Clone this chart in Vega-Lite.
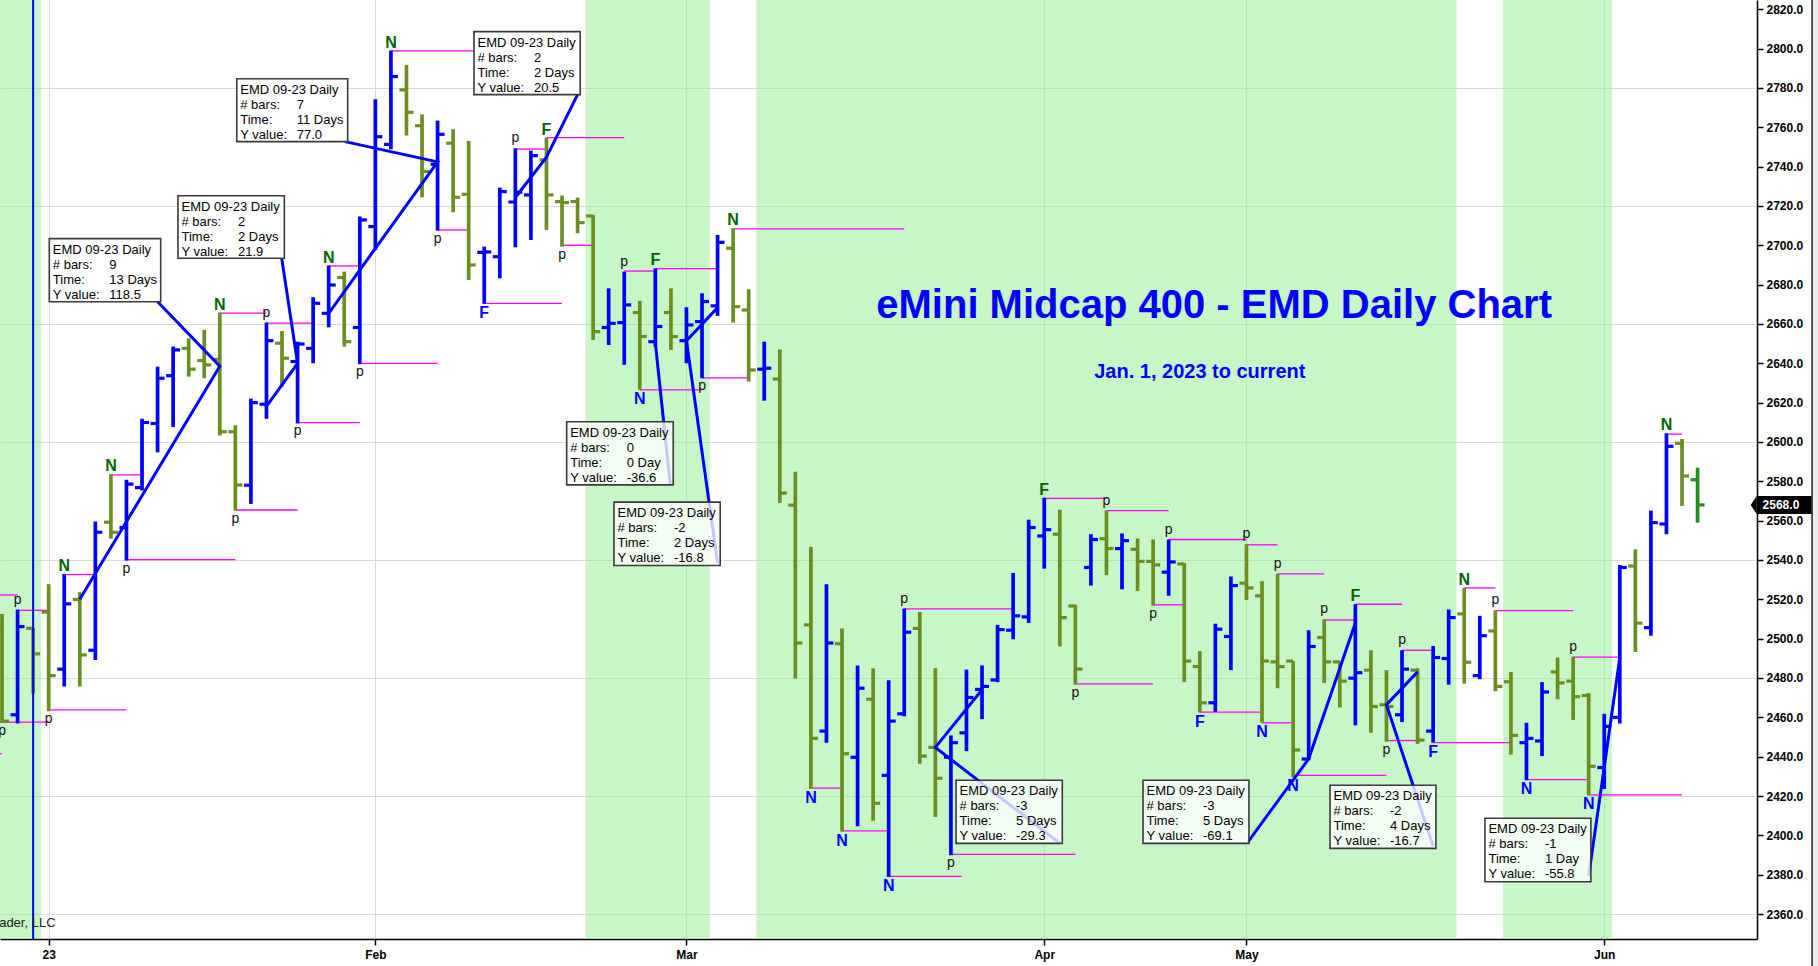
{
  "$schema": "https://vega.github.io/schema/vega-lite/v6.json",
  "width": 1757,
  "height": 939,
  "autosize": {"type": "none"},
  "padding": {"left": 0, "top": 0, "right": 61, "bottom": 27},
  "background": "white",
  "config": {"view": {"stroke": null}, "font": "Liberation Sans"},
  "resolve": {"axis": {"x": "independent", "y": "independent"}},
  "datasets": {
    "bars": [
      {"i":-3,"o":2506,"h":2512.6,"l":2457.2,"c":2458.1},
      {"i":-2,"o":2461.3,"h":2514.8,"l":2456.9,"c":2506.1},
      {"i":-1,"o":2505.2,"h":2505.5,"l":2472,"c":2492.3},
      {"i":0,"o":2513.5,"h":2527.7,"l":2463.1,"c":2481.2},
      {"i":1,"o":2484.5,"h":2532.9,"l":2475.7,"c":2517.7},
      {"i":2,"o":2519.9,"h":2523.6,"l":2475.7,"c":2491.7},
      {"i":3,"o":2494.1,"h":2559.6,"l":2489.1,"c":2554.1},
      {"i":4,"o":2559.2,"h":2583.6,"l":2550.8,"c":2554.1},
      {"i":5,"o":2556.5,"h":2580.8,"l":2539.7,"c":2578.6},
      {"i":6,"o":2576.8,"h":2611.8,"l":2575.3,"c":2609.9},
      {"i":7,"o":2609.4,"h":2638.3,"l":2594.7,"c":2632.4},
      {"i":8,"o":2633.7,"h":2648.5,"l":2607.6,"c":2646.8},
      {"i":9,"o":2647.6,"h":2652.7,"l":2633.2,"c":2637},
      {"i":10,"o":2641.4,"h":2657,"l":2632.4,"c":2639.2},
      {"i":11,"o":2642,"h":2665.8,"l":2603.3,"c":2605.2},
      {"i":12,"o":2605.2,"h":2608.5,"l":2565.1,"c":2578.1},
      {"i":13,"o":2578,"h":2622,"l":2568.5,"c":2620},
      {"i":14,"o":2619.2,"h":2660.7,"l":2611.8,"c":2651.5},
      {"i":15,"o":2650.2,"h":2656.4,"l":2628.2,"c":2642.6},
      {"i":16,"o":2640.9,"h":2651,"l":2609.4,"c":2649.8},
      {"i":17,"o":2647.6,"h":2673.6,"l":2640,"c":2670.5},
      {"i":18,"o":2665.4,"h":2689.7,"l":2658.3,"c":2679.8},
      {"i":19,"o":2683.6,"h":2686.6,"l":2648.5,"c":2651},
      {"i":20,"o":2658.2,"h":2714.6,"l":2639.5,"c":2712.9},
      {"i":21,"o":2709.5,"h":2774.2,"l":2697.6,"c":2755.2},
      {"i":22,"o":2751.3,"h":2799,"l":2748.8,"c":2785.8},
      {"i":23,"o":2779,"h":2791.7,"l":2755.8,"c":2767.6},
      {"i":24,"o":2760.8,"h":2766.6,"l":2724.4,"c":2737.5},
      {"i":25,"o":2741.2,"h":2763.4,"l":2707.5,"c":2756.4},
      {"i":26,"o":2751.9,"h":2759,"l":2716.8,"c":2724.4},
      {"i":27,"o":2725.9,"h":2753,"l":2682.4,"c":2690},
      {"i":28,"o":2696.4,"h":2699.3,"l":2670.2,"c":2696.6},
      {"i":29,"o":2694.2,"h":2729.3,"l":2683.2,"c":2727.3},
      {"i":30,"o":2722,"h":2749.3,"l":2699,"c":2727},
      {"i":31,"o":2725.6,"h":2748.1,"l":2702.7,"c":2745.6},
      {"i":32,"o":2743.4,"h":2754.7,"l":2707.8,"c":2725.6},
      {"i":33,"o":2722.2,"h":2725.3,"l":2699.3,"c":2721.7},
      {"i":34,"o":2722.2,"h":2724.2,"l":2706.1,"c":2711.5},
      {"i":35,"o":2714.9,"h":2715.4,"l":2651.9,"c":2656.1},
      {"i":36,"o":2658.2,"h":2678.1,"l":2649.3,"c":2660.3},
      {"i":37,"o":2660.7,"h":2686.6,"l":2639.2,"c":2669.7},
      {"i":38,"o":2665.8,"h":2671.7,"l":2626.5,"c":2653.6},
      {"i":39,"o":2651,"h":2688.3,"l":2648.5,"c":2658.7},
      {"i":40,"o":2665.8,"h":2678.1,"l":2646.8,"c":2653.6},
      {"i":41,"o":2651.5,"h":2668.5,"l":2640,"c":2659.5},
      {"i":42,"o":2661.2,"h":2675.6,"l":2632.4,"c":2671.4},
      {"i":43,"o":2669.2,"h":2705.3,"l":2664.1,"c":2701.5},
      {"i":44,"o":2698.5,"h":2708.6,"l":2660.7,"c":2668.8},
      {"i":45,"o":2667.1,"h":2677.6,"l":2630.7,"c":2636.6},
      {"i":46,"o":2637,"h":2651,"l":2621,"c":2637.5},
      {"i":47,"o":2632,"h":2647,"l":2569,"c":2574},
      {"i":48,"o":2567.9,"h":2584.9,"l":2479.7,"c":2497.8},
      {"i":49,"o":2507,"h":2546.7,"l":2423.6,"c":2449.3},
      {"i":50,"o":2453,"h":2527.7,"l":2447.1,"c":2497.8},
      {"i":51,"o":2497.4,"h":2505.2,"l":2401.9,"c":2441.5},
      {"i":52,"o":2439.7,"h":2486.4,"l":2404.6,"c":2474.8},
      {"i":53,"o":2469.2,"h":2484.9,"l":2407.4,"c":2416.3},
      {"i":54,"o":2430.5,"h":2478.8,"l":2378.8,"c":2458.1},
      {"i":55,"o":2461.8,"h":2515.3,"l":2460.5,"c":2503.3},
      {"i":56,"o":2505.2,"h":2513.5,"l":2436.4,"c":2440.3},
      {"i":57,"o":2444.7,"h":2484.9,"l":2409.3,"c":2429},
      {"i":58,"o":2439.7,"h":2450.8,"l":2389.9,"c":2447.1},
      {"i":59,"o":2452.1,"h":2484.3,"l":2442.8,"c":2470.1},
      {"i":60,"o":2474.2,"h":2486.4,"l":2459.1,"c":2475.7},
      {"i":61,"o":2479,"h":2507,"l":2477.9,"c":2504.6},
      {"i":62,"o":2504.3,"h":2533.4,"l":2499.7,"c":2511.6},
      {"i":63,"o":2511.1,"h":2560.5,"l":2508,"c":2556.5},
      {"i":64,"o":2552.2,"h":2571.6,"l":2535.6,"c":2555.4},
      {"i":65,"o":2553.1,"h":2565.5,"l":2496,"c":2510.7},
      {"i":66,"o":2516.6,"h":2517.2,"l":2476.6,"c":2484.5},
      {"i":67,"o":2536.2,"h":2553.1,"l":2527,"c":2550.4},
      {"i":68,"o":2550.8,"h":2565.1,"l":2532.3,"c":2545.8},
      {"i":69,"o":2545.8,"h":2553.5,"l":2525.1,"c":2549.8},
      {"i":70,"o":2545.4,"h":2550.9,"l":2524.2,"c":2539.3},
      {"i":71,"o":2539.3,"h":2550.4,"l":2516.8,"c":2537.5},
      {"i":72,"o":2533.8,"h":2550.4,"l":2521.8,"c":2539},
      {"i":73,"o":2538,"h":2538.4,"l":2477.9,"c":2488.6},
      {"i":74,"o":2485.8,"h":2493.7,"l":2462.4,"c":2467.4},
      {"i":75,"o":2467.4,"h":2507.6,"l":2462.8,"c":2504.8},
      {"i":76,"o":2501.1,"h":2531.6,"l":2484,"c":2527},
      {"i":77,"o":2528.2,"h":2548,"l":2519.6,"c":2525.8},
      {"i":78,"o":2521.8,"h":2529.2,"l":2457.2,"c":2488.6},
      {"i":79,"o":2488.2,"h":2532.9,"l":2474.8,"c":2485.8},
      {"i":80,"o":2488.6,"h":2488.6,"l":2429.5,"c":2443.4},
      {"i":81,"o":2438.8,"h":2504.3,"l":2438.2,"c":2496},
      {"i":82,"o":2500.6,"h":2509.8,"l":2477.5,"c":2488.2},
      {"i":83,"o":2488.2,"h":2488.6,"l":2465,"c":2478.4},
      {"i":84,"o":2479.9,"h":2517.5,"l":2455.9,"c":2482.7},
      {"i":85,"o":2484,"h":2494.1,"l":2452.1,"c":2465.5},
      {"i":86,"o":2466.4,"h":2484,"l":2447.6,"c":2465.5},
      {"i":87,"o":2461.3,"h":2494.1,"l":2457.6,"c":2484.5},
      {"i":88,"o":2484,"h":2484.9,"l":2446.5,"c":2448.4},
      {"i":89,"o":2453,"h":2496.3,"l":2447.1,"c":2490.4},
      {"i":90,"o":2489.9,"h":2514.8,"l":2476.6,"c":2510.7},
      {"i":91,"o":2512.6,"h":2525.8,"l":2477.1,"c":2488},
      {"i":92,"o":2481.2,"h":2511.6,"l":2479.4,"c":2501.5},
      {"i":93,"o":2503.9,"h":2514.4,"l":2473.3,"c":2475.7},
      {"i":94,"o":2478.1,"h":2483.1,"l":2441,"c":2450.8},
      {"i":95,"o":2447.1,"h":2457.2,"l":2428,"c":2449.3},
      {"i":96,"o":2448,"h":2477.9,"l":2440.3,"c":2472.9},
      {"i":97,"o":2483.1,"h":2490.4,"l":2469.2,"c":2477.5},
      {"i":98,"o":2478.4,"h":2490.8,"l":2458.7,"c":2470.5},
      {"i":99,"o":2471.1,"h":2472.3,"l":2420.3,"c":2435.1},
      {"i":100,"o":2434.5,"h":2461.8,"l":2423.6,"c":2455.4},
      {"i":101,"o":2460,"h":2537.5,"l":2456.9,"c":2536.2},
      {"i":102,"o":2536.9,"h":2545.4,"l":2493.2,"c":2507.9},
      {"i":103,"o":2505.6,"h":2565.1,"l":2501.5,"c":2559},
      {"i":104,"o":2558.3,"h":2604.4,"l":2553.1,"c":2597.8},
      {"i":105,"o":2599.3,"h":2601.5,"l":2567.5,"c":2582.7},
      {"i":106,"o":2580.8,"h":2586.9,"l":2559,"c":2568}
    ],
    "bands": [
      {"s":-3.2,"e":-0.5},{"s":34.5,"e":42.5},{"s":45.5,"e":90.5},{"s":93.5,"e":100.5}
    ],
    "mag": [
      {"i":-3.2,"j":-2,"v":2522.2},{"i":-2,"j":0,"v":2514.4},{"i":-3.2,"j":0,"v":2457.6},{"i":-3.2,"j":-3,"v":2441.5},
      {"i":1,"j":3,"v":2532.6},{"i":0,"j":5,"v":2463.8},{"i":4,"j":6,"v":2583.3},{"i":5,"j":12,"v":2540.2},
      {"i":12,"j":16,"v":2565.4},{"i":16,"j":20,"v":2609.8},{"i":11,"j":14,"v":2665.5},{"i":14,"j":17,"v":2660.4},
      {"i":18,"j":20,"v":2689.5},{"i":20,"j":25,"v":2640},{"i":22,"j":27.35,"v":2798.8},{"i":25,"j":27,"v":2707.8},
      {"i":28,"j":33,"v":2670.5},{"i":30,"j":32,"v":2748.9},{"i":32,"j":37,"v":2754.7},{"i":33,"j":35,"v":2700},
      {"i":37,"j":39,"v":2686.9},{"i":39,"j":43,"v":2688.1},{"i":38,"j":42,"v":2626.5},{"i":42,"j":45,"v":2632.6},
      {"i":44,"j":55,"v":2708.3},{"i":49,"j":51,"v":2424},{"i":51,"j":54,"v":2402.3},{"i":54,"j":58.7,"v":2379.1},
      {"i":55,"j":62,"v":2515.1},{"i":58,"j":66,"v":2390.3},{"i":64,"j":68,"v":2571.3},{"i":68,"j":72,"v":2565.1},
      {"i":66,"j":71,"v":2477},{"i":72,"j":77,"v":2550.4},{"i":71,"j":73,"v":2517.2},{"i":77,"j":79,"v":2547.7},
      {"i":79,"j":82,"v":2532.9},{"i":74,"j":78,"v":2462.6},{"i":78,"j":80,"v":2457.2},{"i":80,"j":86,"v":2430.5},
      {"i":82,"j":84,"v":2509.5},{"i":84,"j":87,"v":2517.5},{"i":86,"j":88,"v":2448.2},{"i":87,"j":89,"v":2494.1},
      {"i":89,"j":94,"v":2447.1},{"i":91,"j":93,"v":2525.8},{"i":93,"j":98,"v":2514.2},{"i":98,"j":100.9,"v":2490.6},
      {"i":95,"j":99,"v":2428.3},{"i":99,"j":105,"v":2420.6},{"i":104,"j":105,"v":2604}
    ],
    "zz": [
      {"g":"A","k":0,"i":2,"v":2520},{"g":"A","k":1,"i":11,"v":2638.5},{"g":"A","k":2,"i":7.0,"v":2671.3},
      {"g":"B","k":0,"i":14,"v":2618.1},{"g":"B","k":1,"i":16,"v":2640},{"g":"B","k":2,"i":14.98,"v":2693.4},
      {"g":"C","k":0,"i":18,"v":2665.4},{"g":"C","k":1,"i":25,"v":2742.4},{"g":"C","k":2,"i":19.05,"v":2752.7},
      {"g":"D","k":0,"i":30,"v":2724.3},{"g":"D","k":1,"i":32,"v":2744.8},{"g":"D","k":2,"i":34.0,"v":2776.6},
      {"g":"E","k":0,"i":39,"v":2687},{"g":"E","k":1,"i":39,"v":2650.4},{"g":"E","k":2,"i":39.96,"v":2578.2},
      {"g":"F","k":0,"i":43,"v":2668.3},{"g":"F","k":1,"i":41,"v":2651.5},{"g":"F","k":2,"i":43.0,"v":2538.5},
      {"g":"G","k":0,"i":60,"v":2474},{"g":"G","k":1,"i":57,"v":2444.7},{"g":"G","k":2,"i":65.0,"v":2396},
      {"g":"H","k":0,"i":84,"v":2508},{"g":"H","k":1,"i":81,"v":2438.9},{"g":"H","k":2,"i":77.1,"v":2396.7},
      {"g":"I","k":0,"i":88,"v":2483.1},{"g":"I","k":1,"i":86,"v":2466.4},{"g":"I","k":2,"i":89.0,"v":2394.5},
      {"g":"J","k":0,"i":101,"v":2490.5},{"g":"J","k":1,"i":100,"v":2434.7},{"g":"J","k":2,"i":99.0,"v":2379.5}
    ],
    "boxes": [
      {"x1":0.04,"x2":7.2,"yt":2703.4,"yb":2671.3,"b":"9","t":"13 Days","yv":"118.5"},
      {"x1":8.31,"x2":15.15,"yt":2725.2,"yb":2693.4,"b":"2","t":"2 Days","yv":"21.9"},
      {"x1":12.09,"x2":19.22,"yt":2784.7,"yb":2752.7,"b":"7","t":"11 Days","yv":"77.0"},
      {"x1":27.34,"x2":34.17,"yt":2808.6,"yb":2776.6,"b":"2","t":"2 Days","yv":"20.5"},
      {"x1":33.3,"x2":40.15,"yt":2610.3,"yb":2578.2,"b":"0","t":"0 Day","yv":"-36.6"},
      {"x1":36.34,"x2":43.17,"yt":2569.4,"yb":2537.2,"b":"-2","t":"2 Days","yv":"-16.8"},
      {"x1":58.33,"x2":65.16,"yt":2428.0,"yb":2395.9,"b":"-3","t":"5 Days","yv":"-29.3"},
      {"x1":70.35,"x2":77.16,"yt":2428.0,"yb":2395.9,"b":"-3","t":"5 Days","yv":"-69.1"},
      {"x1":82.37,"x2":89.18,"yt":2425.5,"yb":2393.4,"b":"-2","t":"4 Days","yv":"-16.7"},
      {"x1":92.33,"x2":99.14,"yt":2408.7,"yb":2376.4,"b":"-1","t":"1 Day","yv":"-55.8"}
    ],
    "labels": [
      {"i":1,"v":2532.9,"t":"N","s":"a"},{"i":4,"v":2583.6,"t":"N","s":"a"},{"i":11,"v":2665.8,"t":"N","s":"a"},
      {"i":18,"v":2689.7,"t":"N","s":"a"},{"i":22,"v":2799,"t":"N","s":"a"},{"i":44,"v":2708.6,"t":"N","s":"a"},
      {"i":91,"v":2525.8,"t":"N","s":"a"},{"i":104,"v":2604.4,"t":"N","s":"a"},
      {"i":32,"v":2754.7,"t":"F","s":"a"},{"i":39,"v":2688.3,"t":"F","s":"a"},{"i":64,"v":2571.6,"t":"F","s":"a"},
      {"i":84,"v":2517.5,"t":"F","s":"a"},
      {"i":-2,"v":2514.8,"t":"p","s":"a"},{"i":14,"v":2660.7,"t":"p","s":"a"},{"i":30,"v":2749.3,"t":"p","s":"a"},
      {"i":37,"v":2686.6,"t":"p","s":"a"},{"i":55,"v":2515.3,"t":"p","s":"a"},{"i":68,"v":2565.1,"t":"p","s":"a"},
      {"i":72,"v":2550.4,"t":"p","s":"a"},{"i":77,"v":2548,"t":"p","s":"a"},{"i":79,"v":2532.9,"t":"p","s":"a"},
      {"i":82,"v":2509.8,"t":"p","s":"a"},{"i":87,"v":2494.1,"t":"p","s":"a"},{"i":93,"v":2514.4,"t":"p","s":"a"},
      {"i":98,"v":2490.8,"t":"p","s":"a"},
      {"i":38,"v":2626.5,"t":"N","s":"b"},{"i":49,"v":2423.6,"t":"N","s":"b"},{"i":51,"v":2401.9,"t":"N","s":"b"},
      {"i":54,"v":2378.8,"t":"N","s":"b"},{"i":78,"v":2457.2,"t":"N","s":"b"},{"i":80,"v":2429.5,"t":"N","s":"b"},
      {"i":95,"v":2428,"t":"N","s":"b"},{"i":99,"v":2420.3,"t":"N","s":"b"},
      {"i":28,"v":2670.2,"t":"F","s":"b"},{"i":74,"v":2462.4,"t":"F","s":"b"},{"i":89,"v":2447.1,"t":"F","s":"b"},
      {"i":-3,"v":2457.2,"t":"p","s":"b"},{"i":0,"v":2463.1,"t":"p","s":"b"},{"i":5,"v":2539.7,"t":"p","s":"b"},
      {"i":12,"v":2565.1,"t":"p","s":"b"},{"i":16,"v":2609.4,"t":"p","s":"b"},{"i":20,"v":2639.5,"t":"p","s":"b"},
      {"i":25,"v":2707.5,"t":"p","s":"b"},{"i":33,"v":2699.3,"t":"p","s":"b"},{"i":42,"v":2632.4,"t":"p","s":"b"},
      {"i":58,"v":2389.9,"t":"p","s":"b"},{"i":66,"v":2476.6,"t":"p","s":"b"},{"i":71,"v":2516.8,"t":"p","s":"b"},
      {"i":86,"v":2447.6,"t":"p","s":"b"}
    ],
    "txt": [
      {"k":"title","i":74.92,"v":2668.9,"s":"eMini Midcap 400 - EMD Daily Chart"},
      {"k":"sub","i":74.0,"v":2635.8,"s":"Jan. 1, 2023 to current"},
      {"k":"copy","i":0.44,"v":2355.5,"s":"ader, LLC"}
    ],
    "last": [{"p":2568.0}]
  },
  "layer": [
    {
      "data": {"name": "bars"},
      "mark": {"type": "rule", "opacity": 0},
      "encoding": {
        "x": {"field": "i", "type": "quantitative", "scale": {"domain": [-3.13, 109.82], "nice": false, "zero": false},
          "axis": {"values": [0, 21, 41, 64, 77, 100], "title": null,
            "labelExpr": "datum.value == 0 ? '23' : datum.value == 21 ? 'Feb' : datum.value == 41 ? 'Mar' : datum.value == 64 ? 'Apr' : datum.value == 77 ? 'May' : 'Jun'",
            "grid": true, "gridColor": "#d9d9d9", "gridWidth": 1,
            "domainColor": "#000000", "domainWidth": 1.5, "tickColor": "#000000", "tickSize": 6, "tickWidth": 1.5,
            "labelFont": "Liberation Sans", "labelFontWeight": "bold", "labelFontSize": 12, "labelColor": "#000000",
            "labelPadding": 4, "labelFlush": false, "labelOverlap": false}},
        "y": {"field": "l", "type": "quantitative", "scale": {"domain": [2347.3, 2824.7], "nice": false, "zero": false},
          "axis": {"orient": "right", "title": null,
            "values": [2360,2380,2400,2420,2440,2460,2480,2500,2520,2540,2560,2580,2600,2620,2640,2660,2680,2700,2720,2740,2760,2780,2800,2820],
            "format": ".1f", "grid": true, "gridColor": "#d9d9d9", "gridWidth": 1,
            "gridOpacity": {"condition": {"test": "datum.value % 60 === 20", "value": 1}, "value": 0},
            "domainColor": "#000000", "domainWidth": 1.5, "tickColor": "#000000", "tickSize": 6, "tickWidth": 1.5,
            "labelFont": "Liberation Sans", "labelFontWeight": "bold", "labelFontSize": 12, "labelColor": "#000000",
            "labelPadding": 3, "labelFlush": false, "labelOverlap": false, "labelBound": false}},
        "y2": {"field": "h"}
      }
    },
    {
      "data": {"name": "bands"},
      "mark": {"type": "rect", "color": "#90ee90", "opacity": 0.5},
      "encoding": {
        "x": {"field": "s", "type": "quantitative", "axis": null},
        "x2": {"field": "e"}
      }
    },
    {
      "data": {"name": "mag"},
      "mark": {"type": "rule", "color": "#ff00ff", "strokeWidth": 1.3},
      "encoding": {
        "x": {"field": "i", "type": "quantitative", "axis": null},
        "x2": {"field": "j"},
        "y": {"field": "v", "type": "quantitative", "axis": null}
      }
    },
    {
      "data": {"name": "bars"},
      "mark": {"type": "rule", "strokeWidth": 3.7, "strokeCap": "butt"},
      "encoding": {
        "x": {"field": "i", "type": "quantitative", "axis": null},
        "y": {"field": "l", "type": "quantitative", "axis": null},
        "y2": {"field": "h"},
        "color": {"condition": [{"test": "datum.i === 106", "value": "#228b22"}, {"test": "datum.c >= datum.o", "value": "#0000ff"}], "value": "#6b8e23"}
      }
    },
    {
      "data": {"name": "bars"},
      "mark": {"type": "tick", "orient": "horizontal", "size": 7, "thickness": 3.2, "xOffset": -3.5, "opacity": 1},
      "encoding": {
        "x": {"field": "i", "type": "quantitative", "axis": null},
        "y": {"field": "o", "type": "quantitative", "axis": null},
        "color": {"condition": [{"test": "datum.i === 106", "value": "#228b22"}, {"test": "datum.c >= datum.o", "value": "#0000ff"}], "value": "#6b8e23"}
      }
    },
    {
      "data": {"name": "bars"},
      "mark": {"type": "tick", "orient": "horizontal", "size": 7, "thickness": 3.2, "xOffset": 3.5, "opacity": 1},
      "encoding": {
        "x": {"field": "i", "type": "quantitative", "axis": null},
        "y": {"field": "c", "type": "quantitative", "axis": null},
        "color": {"condition": [{"test": "datum.i === 106", "value": "#228b22"}, {"test": "datum.c >= datum.o", "value": "#0000ff"}], "value": "#6b8e23"}
      }
    },
    {
      "data": {"name": "zz"},
      "mark": {"type": "line", "color": "#0000ff", "strokeWidth": 3},
      "encoding": {
        "x": {"field": "i", "type": "quantitative", "axis": null},
        "y": {"field": "v", "type": "quantitative", "axis": null},
        "detail": {"field": "g"},
        "order": {"field": "k", "type": "quantitative"}
      }
    },
    {
      "data": {"values": [{"z": 1}]},
      "mark": {"type": "rule", "color": "#0000ff", "strokeWidth": 2},
      "encoding": {
        "x": {"datum": -1, "type": "quantitative", "axis": null}
      }
    },
    {
      "data": {"name": "boxes"},
      "mark": {"type": "rect", "fill": "#ffffff", "fillOpacity": 0.78, "stroke": "#3a3a3a", "strokeWidth": 1.6},
      "encoding": {
        "x": {"field": "x1", "type": "quantitative", "axis": null},
        "x2": {"field": "x2"},
        "y": {"field": "yt", "type": "quantitative", "axis": null},
        "y2": {"field": "yb"}
      }
    },
    {
      "data": {"name": "boxes"},
      "mark": {"type": "text", "align": "left", "baseline": "top", "dx": 3.5, "dy": 5, "fontSize": 13, "lineHeight": 15, "color": "#000000"},
      "encoding": {
        "x": {"field": "x1", "type": "quantitative", "axis": null},
        "y": {"field": "yt", "type": "quantitative", "axis": null},
        "text": {"value": ["EMD 09-23 Daily", "# bars:", "Time:", "Y value:"]}
      }
    },
    {
      "data": {"name": "boxes"},
      "mark": {"type": "text", "align": "left", "baseline": "top", "dx": 60, "dy": 20, "fontSize": 13, "color": "#000000"},
      "encoding": {
        "x": {"field": "x1", "type": "quantitative", "axis": null},
        "y": {"field": "yt", "type": "quantitative", "axis": null},
        "text": {"field": "b"}
      }
    },
    {
      "data": {"name": "boxes"},
      "mark": {"type": "text", "align": "left", "baseline": "top", "dx": 60, "dy": 35, "fontSize": 13, "color": "#000000"},
      "encoding": {
        "x": {"field": "x1", "type": "quantitative", "axis": null},
        "y": {"field": "yt", "type": "quantitative", "axis": null},
        "text": {"field": "t"}
      }
    },
    {
      "data": {"name": "boxes"},
      "mark": {"type": "text", "align": "left", "baseline": "top", "dx": 60, "dy": 50, "fontSize": 13, "color": "#000000"},
      "encoding": {
        "x": {"field": "x1", "type": "quantitative", "axis": null},
        "y": {"field": "yt", "type": "quantitative", "axis": null},
        "text": {"field": "yv"}
      }
    },
    {
      "data": {"name": "labels"},
      "transform": [{"filter": "datum.s === 'a' && datum.t !== 'p'"}],
      "mark": {"type": "text", "align": "center", "baseline": "alphabetic", "dy": -3, "fontSize": 16, "fontWeight": "bold", "color": "#006400"},
      "encoding": {
        "x": {"field": "i", "type": "quantitative", "axis": null},
        "y": {"field": "v", "type": "quantitative", "axis": null},
        "text": {"field": "t"}
      }
    },
    {
      "data": {"name": "labels"},
      "transform": [{"filter": "datum.s === 'a' && datum.t === 'p'"}],
      "mark": {"type": "text", "align": "center", "baseline": "alphabetic", "dy": -6, "fontSize": 14, "color": "#111111"},
      "encoding": {
        "x": {"field": "i", "type": "quantitative", "axis": null},
        "y": {"field": "v", "type": "quantitative", "axis": null},
        "text": {"field": "t"}
      }
    },
    {
      "data": {"name": "labels"},
      "transform": [{"filter": "datum.s === 'b' && datum.t !== 'p'"}],
      "mark": {"type": "text", "align": "center", "baseline": "alphabetic", "dy": 14, "fontSize": 16, "fontWeight": "bold", "color": "#0000ff"},
      "encoding": {
        "x": {"field": "i", "type": "quantitative", "axis": null},
        "y": {"field": "v", "type": "quantitative", "axis": null},
        "text": {"field": "t"}
      }
    },
    {
      "data": {"name": "labels"},
      "transform": [{"filter": "datum.s === 'b' && datum.t === 'p'"}],
      "mark": {"type": "text", "align": "center", "baseline": "alphabetic", "dy": 12, "fontSize": 14, "color": "#111111"},
      "encoding": {
        "x": {"field": "i", "type": "quantitative", "axis": null},
        "y": {"field": "v", "type": "quantitative", "axis": null},
        "text": {"field": "t"}
      }
    },
    {
      "data": {"name": "txt"},
      "transform": [{"filter": "datum.k === 'title'"}],
      "mark": {"type": "text", "align": "center", "baseline": "middle", "fontSize": 40, "fontWeight": "bold", "color": "#0000ff"},
      "encoding": {
        "x": {"field": "i", "type": "quantitative", "axis": null},
        "y": {"field": "v", "type": "quantitative", "axis": null},
        "text": {"field": "s"}
      }
    },
    {
      "data": {"name": "txt"},
      "transform": [{"filter": "datum.k === 'sub'"}],
      "mark": {"type": "text", "align": "center", "baseline": "middle", "fontSize": 20, "fontWeight": "bold", "color": "#0000ff"},
      "encoding": {
        "x": {"field": "i", "type": "quantitative", "axis": null},
        "y": {"field": "v", "type": "quantitative", "axis": null},
        "text": {"field": "s"}
      }
    },
    {
      "data": {"name": "txt"},
      "transform": [{"filter": "datum.k === 'copy'"}],
      "mark": {"type": "text", "align": "right", "baseline": "middle", "fontSize": 13, "color": "#222222"},
      "encoding": {
        "x": {"field": "i", "type": "quantitative", "axis": null},
        "y": {"field": "v", "type": "quantitative", "axis": null},
        "text": {"field": "s"}
      }
    },
    {
      "data": {"values": [{"z": 1}]},
      "mark": {"type": "rect", "color": "#eeeeee"},
      "encoding": {
        "x": {"datum": 113.42, "type": "quantitative", "axis": null},
        "x2": {"datum": 115},
        "y": {"datum": 2824.7, "type": "quantitative", "axis": null},
        "y2": {"datum": 2333}
      }
    },
    {
      "data": {"values": [{"z": 1}]},
      "mark": {"type": "rule", "color": "#222222", "strokeWidth": 1.5},
      "encoding": {
        "x": {"datum": 113.36, "type": "quantitative", "axis": null},
        "y": {"datum": 2824.7, "type": "quantitative", "axis": null},
        "y2": {"datum": 2333}
      }
    },
    {
      "data": {"name": "last"},
      "mark": {"type": "rect", "color": "#000000", "yOffset": -9, "y2Offset": 9},
      "encoding": {
        "x": {"datum": 109.8, "type": "quantitative", "axis": null},
        "x2": {"datum": 113.33},
        "y": {"field": "p", "type": "quantitative", "axis": null},
        "y2": {"field": "p"}
      }
    },
    {
      "data": {"name": "last"},
      "mark": {"type": "point", "shape": "M 0 -1 L -0.67 0 L 0 1 Z", "size": 324, "filled": true, "color": "#000000", "opacity": 1, "strokeWidth": 0},
      "encoding": {
        "x": {"datum": 109.8, "type": "quantitative", "axis": null},
        "y": {"field": "p", "type": "quantitative", "axis": null}
      }
    },
    {
      "data": {"name": "last"},
      "mark": {"type": "text", "align": "left", "baseline": "middle", "fontSize": 12, "fontWeight": "bold", "color": "#ffffff"},
      "encoding": {
        "x": {"datum": 110.18, "type": "quantitative", "axis": null},
        "y": {"field": "p", "type": "quantitative", "axis": null},
        "text": {"field": "p", "type": "quantitative", "format": ".1f"}
      }
    }
  ]
}
